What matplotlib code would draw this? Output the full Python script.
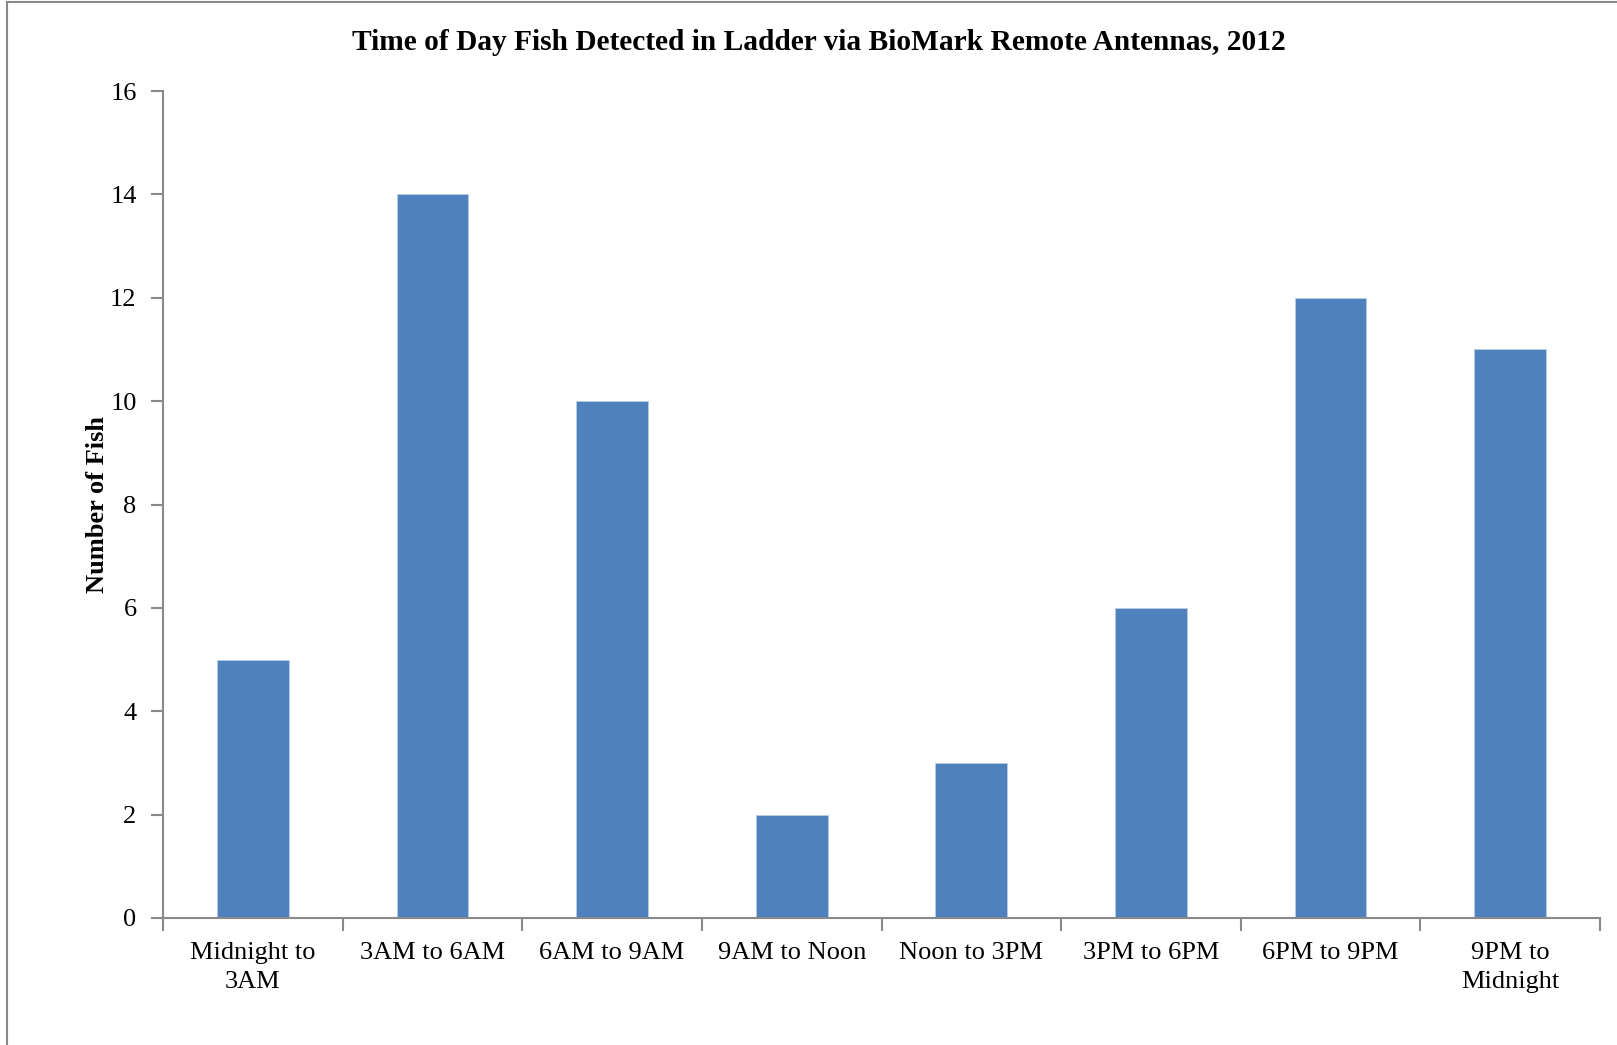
import matplotlib.pyplot as plt
from matplotlib.lines import Line2D

# Time windows and fish counts
periods = ['Midnight to\n3AM', '3AM to 6AM', '6AM to 9AM', '9AM to Noon',
           'Noon to 3PM', '3PM to 6PM', '6PM to 9PM', '9PM to\nMidnight']
fish_counts = [5, 14, 10, 2, 3, 6, 12, 11]

plt.rcParams['font.family'] = ['Liberation Serif', 'DejaVu Serif']

fig = plt.figure(figsize=(16.17, 10.45), dpi=100)
ax = fig.add_axes([163 / 1617, 1 - 918 / 1045, (1600 - 163) / 1617, (918 - 91) / 1045])

x = range(len(periods))
ax.bar(x, fish_counts, width=0.4, color='#4F81BD', edgecolor='#B9CDE5', linewidth=0.6, zorder=2)

ax.set_xlim(-0.5, len(periods) - 0.5)
ax.set_ylim(0, 16)
ax.set_yticks(range(0, 17, 2))
ax.set_xticks([i - 0.5 for i in range(len(periods) + 1)], minor=False)
ax.set_xticklabels([])
ax.set_xticks(list(x), minor=True)
ax.set_xticklabels(periods, minor=True, fontsize=19, linespacing=1.45)
ax.tick_params(axis='x', which='minor', length=0, pad=17)
ax.tick_params(axis='x', which='major', length=9, width=1.5, color='#898989', direction='out')
ax.tick_params(axis='y', length=9, width=1.5, color='#898989', labelsize=19, pad=10)

for side in ['top', 'right']:
    ax.spines[side].set_visible(False)
for side in ['left', 'bottom']:
    ax.spines[side].set_color('#898989')
    ax.spines[side].set_linewidth(1.5)

ax.set_ylabel('Number of Fish', fontsize=19, fontweight='bold', labelpad=1)
fig.text(0.5067, 1 - 43 / 1045, 'Time of Day Fish Detected in Ladder via BioMark Remote Antennas, 2012',
         ha='center', va='center', fontsize=21.2, fontweight='bold')

# outer frame lines (top and left) from the source document
fig.add_artist(Line2D([7 / 1617, 7 / 1617], [0, 1 - 2 / 1045], transform=fig.transFigure,
                      color='#898989', linewidth=1.5))
fig.add_artist(Line2D([7 / 1617, 1], [1 - 2 / 1045, 1 - 2 / 1045], transform=fig.transFigure,
                      color='#898989', linewidth=1.5))

plt.savefig('out.png', dpi=100)
